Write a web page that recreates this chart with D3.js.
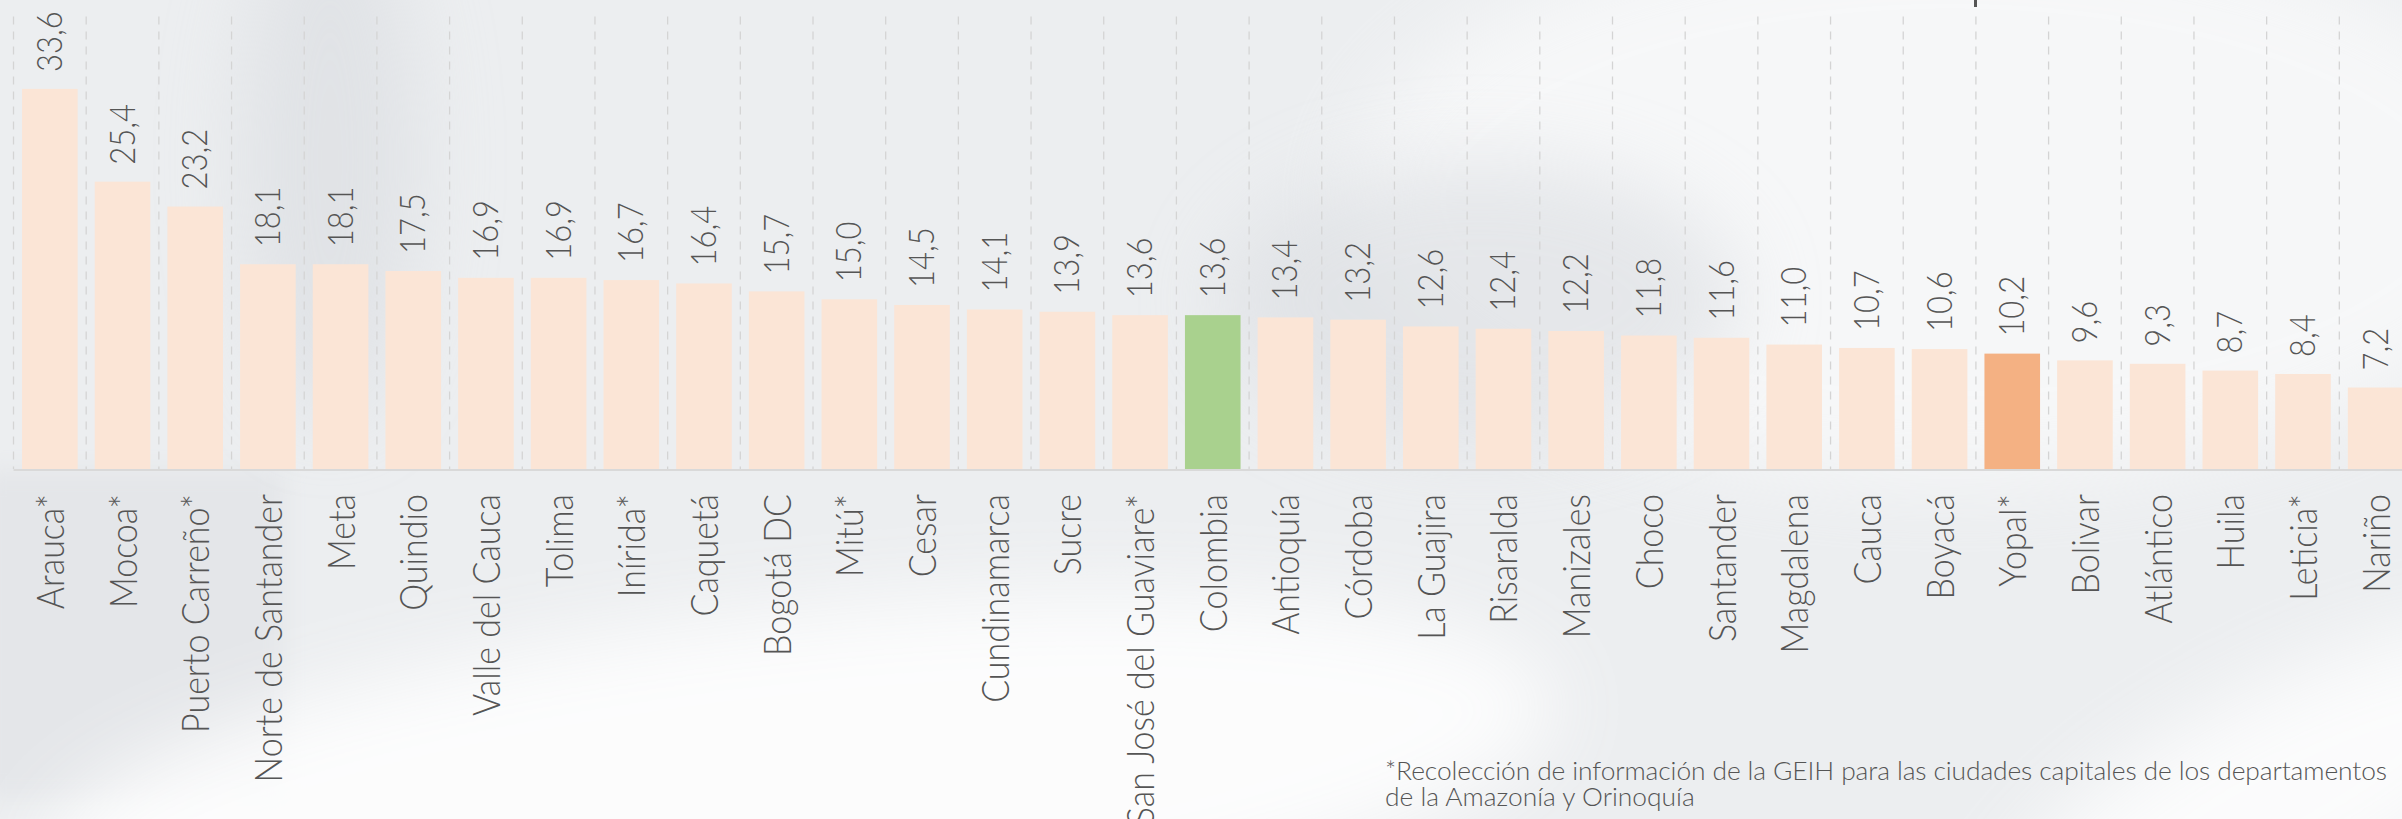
<!DOCTYPE html>
<html>
<head>
<meta charset="utf-8">
<script src="https://cdn.jsdelivr.net/npm/d3@7"></script>
<style>
  body { margin: 0; background: #eceef0; }
  svg { display: block; }
  text { font-family: Lato, "Open Sans", sans-serif; font-weight: 300; fill: #555555; }
</style>
</head>
<body>
<div id="chart"></div>
<script>
// categories (cities / departments), in chart order
var cities = ["Arauca*", "Mocoa*", "Puerto Carreño*", "Norte de Santander", "Meta", "Quindio",
  "Valle del Cauca", "Tolima", "Inírida*", "Caquetá", "Bogotá DC", "Mitú*", "Cesar",
  "Cundinamarca", "Sucre", "San José del Guaviare*", "Colombia", "Antioquía", "Córdoba",
  "La Guajira", "Risaralda", "Manizales", "Choco", "Santander", "Magdalena", "Cauca",
  "Boyacá", "Yopal*", "Bolivar", "Atlántico", "Huila", "Leticia*", "Nariño"];

// values
var values = [33.6, 25.4, 23.2, 18.1, 18.1, 17.5, 16.9, 16.9, 16.7, 16.4, 15.7, 15.0, 14.5,
  14.1, 13.9, 13.6, 13.6, 13.4, 13.2, 12.6, 12.4, 12.2, 11.8, 11.6, 11.0, 10.7,
  10.6, 10.2, 9.6, 9.3, 8.7, 8.4, 7.2];

// highlighted bars
var highlight = {"Colombia": "#a9d18e", "Yopal*": "#f4b183"};
var baseColor = "#fbe5d6";

var footnote = ["*Recolección de información de la GEIH para las ciudades capitales de los departamentos",
  "de la Amazonía y Orinoquía"];

var width = 2402, height = 819;
var stretch = 1.12; // the picture is a bit wider than tall

var data = cities.map(function(c, i) { return {name: c, value: values[i]}; });

var svg = d3.select("#chart")
  .append("svg")
    .attr("width", width)
    .attr("height", height);

// soft photo-like background
var defs = svg.append("defs");
defs.append("filter").attr("id", "blur").attr("x", "-50%").attr("y", "-50%")
    .attr("width", "200%").attr("height", "200%")
  .append("feGaussianBlur").attr("stdDeviation", 40);
defs.append("filter").attr("id", "blurS").attr("x", "-50%").attr("y", "-50%")
    .attr("width", "200%").attr("height", "200%")
  .append("feGaussianBlur").attr("stdDeviation", 12);

var bg = svg.append("g");
bg.append("rect").attr("width", width).attr("height", height).attr("fill", "#eceef0");
bg.append("rect").attr("x", -20).attr("y", 470).attr("width", 305).attr("height", 330)
  .attr("fill", "#e4e6e9").attr("filter", "url(#blurS)");
bg.append("ellipse").attr("cx", 800).attr("cy", 780).attr("rx", 760).attr("ry", 170)
  .attr("transform", "rotate(-6,800,780)")
  .attr("fill", "#ffffff").attr("opacity", 0.85).attr("filter", "url(#blur)");
bg.append("ellipse").attr("cx", 1950).attr("cy", 200).attr("rx", 600).attr("ry", 280)
  .attr("fill", "#ffffff").attr("opacity", 0.55).attr("filter", "url(#blur)");
bg.append("ellipse").attr("cx", 330).attr("cy", 160).attr("rx", 90).attr("ry", 260)
  .attr("fill", "#d9dce0").attr("opacity", 0.6).attr("filter", "url(#blur)");
bg.append("ellipse").attr("cx", 1480).attr("cy", 300).attr("rx", 260).attr("ry", 140)
  .attr("fill", "#dadde1").attr("opacity", 0.6).attr("filter", "url(#blur)");
bg.append("ellipse").attr("cx", 2280).attr("cy", 800).attr("rx", 320).attr("ry", 110)
  .attr("transform", "rotate(-28,2280,800)")
  .attr("fill", "#ffffff").attr("opacity", 0.8).attr("filter", "url(#blur)");

// scales
var x = d3.scaleBand()
  .domain(cities)
  .range([13.5, 2412])
  .paddingInner(0.235)
  .paddingOuter(0.1175);

var y = d3.scaleLinear()
  .domain([0, 40])
  .range([469, 16.5]);

var gap = (x.step() - x.bandwidth()) / 2;

// dashed separators between categories
svg.append("g")
  .selectAll("line")
  .data(cities)
  .enter()
  .append("line")
    .attr("x1", function(d) { return x(d) - gap; })
    .attr("x2", function(d) { return x(d) - gap; })
    .attr("y1", y(40))
    .attr("y2", y(0))
    .attr("stroke", "#d4d4d4")
    .attr("stroke-width", 1.3)
    .attr("stroke-dasharray", "8,7");

// bars
svg.append("g")
  .selectAll("rect")
  .data(data)
  .enter()
  .append("rect")
    .attr("x", function(d) { return x(d.name); })
    .attr("y", function(d) { return y(d.value); })
    .attr("width", x.bandwidth())
    .attr("height", function(d) { return y(0) - y(d.value); })
    .attr("fill", function(d) { return highlight[d.name] || baseColor; });

// baseline
var xAxis = svg.append("g")
  .attr("transform", "translate(0," + (y(0) + 1) + ")")
  .call(d3.axisBottom(x).tickSize(0).tickFormat(""));
xAxis.select(".domain")
  .attr("d", "M" + (x.range()[0]) + ",0H" + width)
  .attr("stroke", "#d9d9d9")
  .attr("stroke-width", 2.2);

// value labels, rotated
svg.append("g")
  .selectAll("text")
  .data(data)
  .enter()
  .append("text")
    .attr("transform", function(d) {
      var cx = x(d.name) + x.bandwidth() / 2 + 12;
      return "translate(" + cx + "," + (y(d.value) - 17) + ") scale(" + stretch + ",1) rotate(-90)";
    })
    .attr("text-anchor", "start")
    .style("font-size", "31px")
    .text(function(d) { return d.value.toFixed(1).replace(".", ","); });

// category labels, rotated
svg.append("g")
  .selectAll("text")
  .data(data)
  .enter()
  .append("text")
    .attr("transform", function(d) {
      var cx = x(d.name) + x.bandwidth() / 2 + 14;
      return "translate(" + cx + "," + (y(0) + 25) + ") scale(" + stretch + ",1) rotate(-90)";
    })
    .attr("text-anchor", "end")
    .style("font-size", "34px")
    .text(function(d) { return d.name; });

// fragment of the heading above the picture
svg.append("rect")
  .attr("x", 1974).attr("y", 0).attr("width", 3).attr("height", 7)
  .attr("fill", "#555555");

// footnote (first line justified)
var note = svg.append("g");
var line2 = note.append("text")
  .attr("x", 0).attr("y", 806)
  .style("font-size", "25px")
  .text(footnote[1]);
var fs = 310 / line2.node().getComputedTextLength();
note.attr("transform", "translate(1385,0) scale(" + fs + ",1)");
note.append("text")
  .attr("x", 0).attr("y", 780)
  .attr("textLength", (2387 - 1385) / fs)
  .attr("lengthAdjust", "spacing")
  .style("font-size", "25px")
  .text(footnote[0]);
</script>
</body>
</html>
